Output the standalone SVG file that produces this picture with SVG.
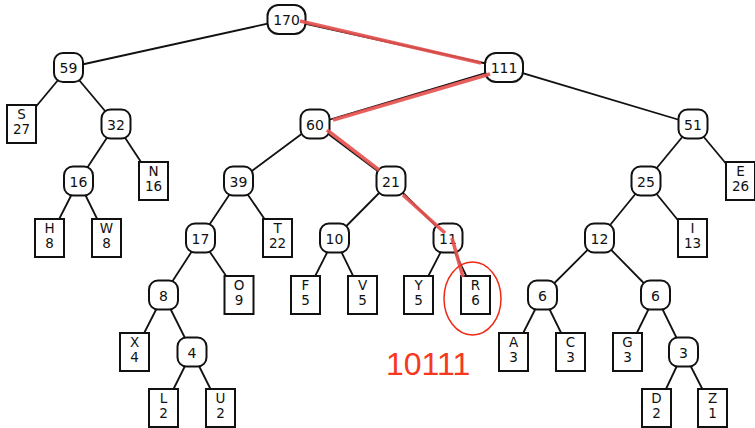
<svg xmlns="http://www.w3.org/2000/svg" width="755" height="428" viewBox="0 0 755 428">
<style>
.e{stroke:#111;stroke-width:1.8;fill:none}
.hl{stroke:#e5524f;stroke-width:3.6;fill:none;stroke-linecap:butt;opacity:0.92}
.n rect{fill:#fff;stroke:#111;stroke-width:2}
.l rect{fill:#fff;stroke:#111;stroke-width:2}
text{font-family:"DejaVu Sans",sans-serif;font-size:14px;fill:#111;text-anchor:middle}
.l text{font-size:13.5px}
.code{font-family:"Liberation Sans",Arial,sans-serif;font-size:32px;fill:#f5381e;text-anchor:start}
</style>
<rect width="755" height="428" fill="#fff"/>
<g id="connectors">
<line class="e" x1="286.5" y1="19.5" x2="68.5" y2="67.5"/>
<line class="e" x1="286.5" y1="19.5" x2="504" y2="67.5"/>
<line class="e" x1="68.5" y1="67.5" x2="21.5" y2="124"/>
<line class="e" x1="68.5" y1="67.5" x2="116" y2="124"/>
<line class="e" x1="116" y1="124" x2="78.5" y2="181"/>
<line class="e" x1="116" y1="124" x2="153.5" y2="181"/>
<line class="e" x1="78.5" y1="181" x2="49.5" y2="238"/>
<line class="e" x1="78.5" y1="181" x2="106.5" y2="238"/>
<line class="e" x1="504" y1="67.5" x2="315" y2="124"/>
<line class="e" x1="504" y1="67.5" x2="693" y2="124"/>
<line class="e" x1="315" y1="124" x2="238.5" y2="181"/>
<line class="e" x1="315" y1="124" x2="391" y2="181"/>
<line class="e" x1="238.5" y1="181" x2="200.5" y2="238"/>
<line class="e" x1="238.5" y1="181" x2="277.5" y2="238"/>
<line class="e" x1="200.5" y1="238" x2="163.5" y2="295"/>
<line class="e" x1="200.5" y1="238" x2="239" y2="295"/>
<line class="e" x1="163.5" y1="295" x2="134.5" y2="352"/>
<line class="e" x1="163.5" y1="295" x2="192" y2="352"/>
<line class="e" x1="192" y1="352" x2="163.5" y2="409"/>
<line class="e" x1="192" y1="352" x2="220.5" y2="409"/>
<line class="e" x1="391" y1="181" x2="334.5" y2="238"/>
<line class="e" x1="391" y1="181" x2="448" y2="238"/>
<line class="e" x1="334.5" y1="238" x2="305.5" y2="295"/>
<line class="e" x1="334.5" y1="238" x2="362.5" y2="295"/>
<line class="e" x1="448" y1="238" x2="418.5" y2="295"/>
<line class="e" x1="448" y1="238" x2="475.5" y2="295"/>
<line class="e" x1="693" y1="124" x2="646" y2="181"/>
<line class="e" x1="693" y1="124" x2="740.5" y2="181"/>
<line class="e" x1="646" y1="181" x2="599.5" y2="238"/>
<line class="e" x1="646" y1="181" x2="692.5" y2="238"/>
<line class="e" x1="599.5" y1="238" x2="542.5" y2="295"/>
<line class="e" x1="599.5" y1="238" x2="655.5" y2="295"/>
<line class="e" x1="542.5" y1="295" x2="513.5" y2="352"/>
<line class="e" x1="542.5" y1="295" x2="570.5" y2="352"/>
<line class="e" x1="655.5" y1="295" x2="627.5" y2="352"/>
<line class="e" x1="655.5" y1="295" x2="683.5" y2="352"/>
<line class="e" x1="683.5" y1="352" x2="656.5" y2="409"/>
<line class="e" x1="683.5" y1="352" x2="712.5" y2="409"/>
</g>
<g id="n170" class="n"><rect x="267.5" y="5" width="38" height="29" rx="11"/><text x="286.5" y="25">170</text></g>
<g id="n59" class="n"><rect x="54" y="53" width="29" height="29" rx="9"/><text x="68.5" y="73">59</text></g>
<g id="n111" class="n"><rect x="485" y="53" width="38" height="29" rx="11"/><text x="504" y="73">111</text></g>
<g id="n32" class="n"><rect x="101.5" y="109.5" width="29" height="29" rx="9"/><text x="116" y="129.5">32</text></g>
<g id="n60" class="n"><rect x="300.5" y="109.5" width="29" height="29" rx="9"/><text x="315" y="129.5">60</text></g>
<g id="n51" class="n"><rect x="678.5" y="109.5" width="29" height="29" rx="9"/><text x="693" y="129.5">51</text></g>
<g id="n16" class="n"><rect x="64" y="166.5" width="29" height="29" rx="9"/><text x="78.5" y="186.5">16</text></g>
<g id="n39" class="n"><rect x="224" y="166.5" width="29" height="29" rx="9"/><text x="238.5" y="186.5">39</text></g>
<g id="n21" class="n"><rect x="376.5" y="166.5" width="29" height="29" rx="9"/><text x="391" y="186.5">21</text></g>
<g id="n25" class="n"><rect x="631.5" y="166.5" width="29" height="29" rx="9"/><text x="646" y="186.5">25</text></g>
<g id="n17" class="n"><rect x="186" y="223.5" width="29" height="29" rx="9"/><text x="200.5" y="243.5">17</text></g>
<g id="n10" class="n"><rect x="320" y="223.5" width="29" height="29" rx="9"/><text x="334.5" y="243.5">10</text></g>
<g id="n11" class="n"><rect x="433.5" y="223.5" width="29" height="29" rx="9"/><text x="448" y="243.5">11</text></g>
<g id="n12" class="n"><rect x="585" y="223.5" width="29" height="29" rx="9"/><text x="599.5" y="243.5">12</text></g>
<g id="n8" class="n"><rect x="149" y="280.5" width="29" height="29" rx="9"/><text x="163.5" y="300.5">8</text></g>
<g id="n6a" class="n"><rect x="528" y="280.5" width="29" height="29" rx="9"/><text x="542.5" y="300.5">6</text></g>
<g id="n6b" class="n"><rect x="641" y="280.5" width="29" height="29" rx="9"/><text x="655.5" y="300.5">6</text></g>
<g id="n4" class="n"><rect x="177.5" y="337.5" width="29" height="29" rx="9"/><text x="192" y="357.5">4</text></g>
<g id="n3" class="n"><rect x="669" y="337.5" width="29" height="29" rx="9"/><text x="683.5" y="357.5">3</text></g>
<g id="leafS" class="l"><rect x="7" y="105" width="29" height="38"/><text x="21.5" y="119">S</text><text x="21.5" y="134">27</text></g>
<g id="leafN" class="l"><rect x="139" y="162" width="29" height="38"/><text x="153.5" y="176">N</text><text x="153.5" y="191">16</text></g>
<g id="leafH" class="l"><rect x="35" y="219" width="29" height="38"/><text x="49.5" y="233">H</text><text x="49.5" y="248">8</text></g>
<g id="leafW" class="l"><rect x="92" y="219" width="29" height="38"/><text x="106.5" y="233">W</text><text x="106.5" y="248">8</text></g>
<g id="leafT" class="l"><rect x="263" y="219" width="29" height="38"/><text x="277.5" y="233">T</text><text x="277.5" y="248">22</text></g>
<g id="leafE" class="l"><rect x="726" y="162" width="29" height="38"/><text x="740.5" y="176">E</text><text x="740.5" y="191">26</text></g>
<g id="leafI" class="l"><rect x="678" y="219" width="29" height="38"/><text x="692.5" y="233">I</text><text x="692.5" y="248">13</text></g>
<g id="leafO" class="l"><rect x="224.5" y="276" width="29" height="38"/><text x="239" y="290">O</text><text x="239" y="305">9</text></g>
<g id="leafF" class="l"><rect x="291" y="276" width="29" height="38"/><text x="305.5" y="290">F</text><text x="305.5" y="305">5</text></g>
<g id="leafV" class="l"><rect x="348" y="276" width="29" height="38"/><text x="362.5" y="290">V</text><text x="362.5" y="305">5</text></g>
<g id="leafY" class="l"><rect x="404" y="276" width="29" height="38"/><text x="418.5" y="290">Y</text><text x="418.5" y="305">5</text></g>
<g id="leafR" class="l"><rect x="461" y="276" width="29" height="38"/><text x="475.5" y="290">R</text><text x="475.5" y="305">6</text></g>
<g id="leafX" class="l"><rect x="120" y="333" width="29" height="38"/><text x="134.5" y="347">X</text><text x="134.5" y="362">4</text></g>
<g id="leafA" class="l"><rect x="499" y="333" width="29" height="38"/><text x="513.5" y="347">A</text><text x="513.5" y="362">3</text></g>
<g id="leafC" class="l"><rect x="556" y="333" width="29" height="38"/><text x="570.5" y="347">C</text><text x="570.5" y="362">3</text></g>
<g id="leafG" class="l"><rect x="613" y="333" width="29" height="38"/><text x="627.5" y="347">G</text><text x="627.5" y="362">3</text></g>
<g id="leafL" class="l"><rect x="149" y="389" width="29" height="38"/><text x="163.5" y="403">L</text><text x="163.5" y="418">2</text></g>
<g id="leafU" class="l"><rect x="206" y="389" width="29" height="38"/><text x="220.5" y="403">U</text><text x="220.5" y="418">2</text></g>
<g id="leafD" class="l"><rect x="642" y="389" width="29" height="38"/><text x="656.5" y="403">D</text><text x="656.5" y="418">2</text></g>
<g id="leafZ" class="l"><rect x="698" y="389" width="29" height="38"/><text x="712.5" y="403">Z</text><text x="712.5" y="418">1</text></g>
<g id="highlight">
<line class="hl" x1="300" y1="21" x2="481" y2="63"/>
<line class="hl" x1="490" y1="74" x2="333" y2="120"/>
<line class="hl" x1="327" y1="130" x2="379" y2="170"/>
<line class="hl" x1="403" y1="195" x2="445" y2="233"/>
<line class="hl" x1="452" y1="238" x2="463" y2="277"/>
<ellipse cx="472.5" cy="298.5" rx="28.5" ry="36.5" fill="none" stroke="#ee2a14" stroke-width="1.5"/>
<text class="code" x="386" y="375">10111</text>
</g>
</svg>
